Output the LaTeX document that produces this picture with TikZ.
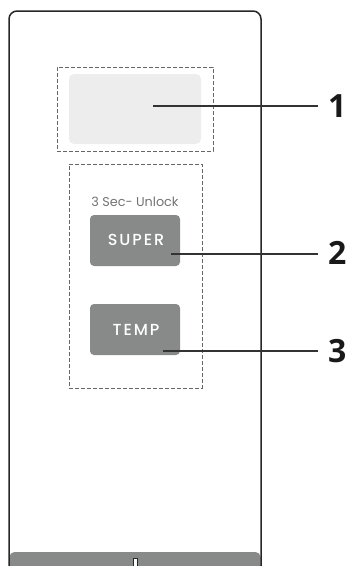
\documentclass[tikz,border=0pt]{standalone}
\usepackage{fontspec}
\setmainfont{Open Sans}
\newfontfamily\btnfont[LetterSpace=12]{Poppins Medium}
\newfontfamily\smallfont{Poppins}
\newfontfamily\numfont{Open Sans}
\definecolor{btngray}{HTML}{878A89}
\definecolor{dispgray}{HTML}{EDEDED}
\definecolor{dashgray}{HTML}{666666}
\definecolor{edgedark}{HTML}{262626}
\definecolor{leadcol}{HTML}{333333}
\tikzset{
  dashbox/.style={draw=dashgray, line width=0.9pt, dash pattern=on 4pt off 2pt, inner sep=0pt},
  btn/.style={fill=btngray, rounded corners=4pt, inner sep=0pt},
  btntext/.style={text=white, inner sep=0pt, font=\btnfont\fontsize{16}{16}\selectfont},
  leader/.style={draw=leadcol, line width=1.3pt},
  numlabel/.style={font=\numfont\bfseries\fontsize{32}{32}\selectfont, text=black!90, inner sep=0pt, anchor=west}
}
\begin{document}
\begin{tikzpicture}[x=1pt,y=-1pt]
\useasboundingbox (0,0) rectangle (347,566);
\begin{scope}
\clip (0,0) rectangle (347,566);
% bottom band
\fill[btngray, rounded corners=5pt] (9.5,552) rectangle (260.5,590);
% outer body
\draw[edgedark, line width=1.5pt, rounded corners=8pt] (9,11) rectangle (261,574);
% slot
\draw[edgedark, fill=white, line width=0.6pt] (133,558.5) rectangle (137.5,570);
\end{scope}
% dashed boxes
\node[dashbox, minimum width=156pt, minimum height=84pt] (box1) at (135,109) {};
\node[dashbox, minimum width=133pt, minimum height=224pt] (box2) at (135.5,276) {};
% display
\node[fill=dispgray, rounded corners=5pt, minimum width=132pt, minimum height=70pt, inner sep=0pt] (disp) at (135,109) {};
% label text
\node[font=\smallfont\fontsize{12.8}{12.8}\selectfont, text=black!55, inner sep=0pt] (unlock) at (135,202) {3 Sec- Unlock};
% buttons
\node[btn, minimum width=90pt, minimum height=51pt] (super) at (135,240.5) {};
\node[btn, minimum width=90pt, minimum height=51pt] (temp) at (135,329.5) {};
\node[btntext] (supertxt) at (136,240) {SUPER};
\node[btntext] (temptxt) at (136,329.5) {TEMP};
% numbers
\node[numlabel] (n1) at (328,106) {1};
\node[numlabel] (n2) at (328,253) {2};
\node[numlabel] (n3) at (328,351) {3};
% leader start points
\coordinate (p1) at (153,106);
\coordinate (p2) at (171,254);
\coordinate (p3) at (163,351);
\draw[leader] (p1) -- ([xshift=-10pt]p1 -| n1.west);
\draw[leader] (p2) -- ([xshift=-10pt]p2 -| n2.west);
\draw[leader] (p3) -- ([xshift=-10pt]p3 -| n3.west);
\end{tikzpicture}
\end{document}
